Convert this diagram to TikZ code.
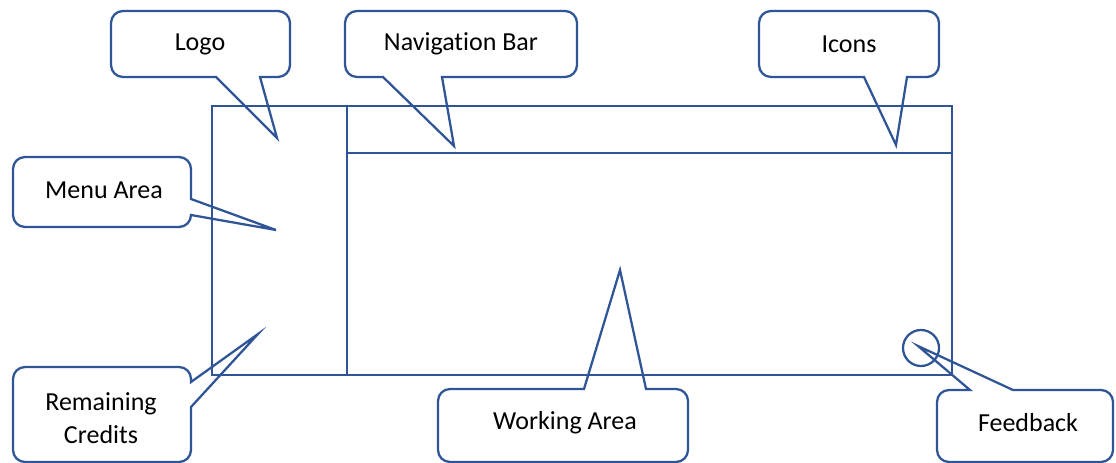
\documentclass[tikz,border=0pt]{standalone}
\usepackage{fontspec}
\setmainfont{Carlito}[Ligatures=NoCommon]
\definecolor{frameblue}{HTML}{2F5597}
\begin{document}
\begin{tikzpicture}[x=0.75pt,y=-0.75pt,
  outline/.style={draw=frameblue,line width=1.7pt,line join=miter},
  bubble/.style={outline,rounded corners=9pt},
  label/.style={font=\fontsize{19.5}{24.5}\selectfont,align=center,inner sep=0pt,text=black}]
\useasboundingbox (0,0) rectangle (1116,463);

% page layout: outer frame, side menu divider, navigation bar
\draw[outline] (212,106) rectangle (952,375);
\coordinate (divtop) at (347,106);
\coordinate (divbot) at (347,375);
\draw[outline] (divtop) -- (divbot);
\coordinate (navl) at (347,153);
\coordinate (navr) at (952,153);
\draw[outline] (navl) -- (navr);
\node[outline,circle,minimum size=36*0.75pt,inner sep=0pt] (fbicon) at (921,348) {};

% callout tips
\coordinate (logotip) at (277,138);
\coordinate (navtip) at (454,146);
\coordinate (icontip) at (896,145);
\coordinate (menutip) at (276,230);
\coordinate (credtip) at (258,334);
\coordinate (worktip) at (620,270);
\coordinate (fbtip) at (918,346);

% callout bubbles: corners rounded, pointer base kept sharp
\draw[bubble] (200,11) -- (290,11) -- (290,77) [sharp corners] -- (260,77) -- (logotip) -- (216,77) [rounded corners=9pt] -- (111,77) -- (111,11) -- cycle;
\draw[bubble] (460,11) -- (577,11) -- (577,77) [sharp corners] -- (442,77) -- (navtip) -- (383,77) [rounded corners=9pt] -- (345,77) -- (345,11) -- cycle;
\draw[bubble] (850,11) -- (939,11) -- (939,77) [sharp corners] -- (907,77) -- (icontip) -- (864,77) [rounded corners=9pt] -- (759,77) -- (759,11) -- cycle;
\draw[bubble] (100,157) -- (191,157) [sharp corners] -- (191,199) -- (menutip) -- (191,215) [rounded corners=9pt] -- (191,227) -- (13,227) -- (13,157) -- cycle;
\draw[bubble] (100,367) -- (191,367) [sharp corners] -- (191,382) -- (credtip) -- (191,407) [rounded corners=9pt] -- (191,462) -- (13,462) -- (13,367) -- cycle;
\draw[bubble] (560,389) [sharp corners] -- (584,389) -- (worktip) -- (646,389) [rounded corners=9pt] -- (688,389) -- (688,462) -- (438,462) -- (438,389) -- cycle;
\draw[bubble] (1050,390) -- (1113,390) -- (1113,462) -- (937,462) -- (937,390) [sharp corners] -- (970,390) -- (fbtip) -- (1013,390) [rounded corners=9pt] -- cycle;

% callout texts
\node[label] (logo) at (200,44) {Logo};
\node[label] (nav) at (461,44) {Navigation Bar};
\node[label] (icons) at (849,44) {Icons};
\node[label] (menu) at (104,190) {Menu Area};
\node[label] (credits) at (101,418) {Remaining\\Credits};
\node[label] (work) at (565,423) {Working Area};
\node[label] (feedback) at (1028,423) {Feedback};
\end{tikzpicture}
\end{document}
